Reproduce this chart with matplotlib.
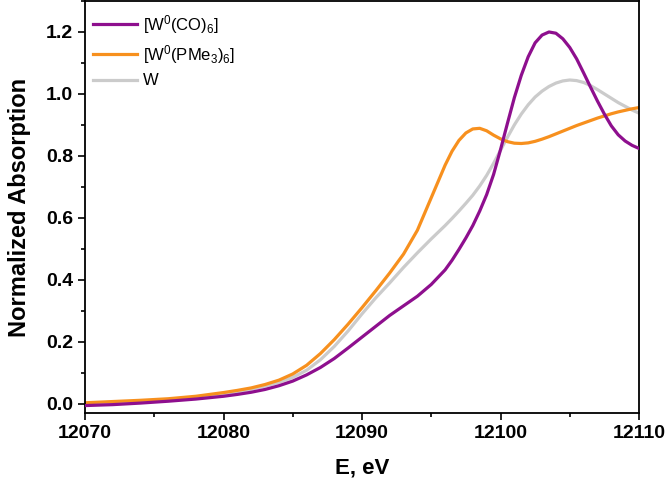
import numpy as np
import matplotlib
matplotlib.use('Agg')
import matplotlib.pyplot as plt
from matplotlib.ticker import MultipleLocator

plt.rcParams['font.family'] = ['Liberation Sans', 'DejaVu Sans']
plt.rcParams['mathtext.default'] = 'regular'

# energy grid (eV)
energy = [12070, 12072, 12074, 12076, 12078, 12080, 12081, 12082, 12083, 12084,
          12085, 12086, 12087, 12088, 12089, 12090, 12091, 12092, 12093, 12094,
          12095,
          12096, 12096.5, 12097, 12097.5, 12098, 12098.5, 12099, 12099.5,
          12100, 12100.5, 12101, 12101.5, 12102, 12102.5, 12103, 12103.5,
          12104, 12104.5, 12105, 12105.5, 12106, 12106.5, 12107, 12107.5,
          12108, 12108.5, 12109, 12109.5, 12110]

w_co = [-0.006, -0.003, 0.002, 0.008, 0.015, 0.024, 0.030, 0.037, 0.046, 0.058,
        0.073, 0.093, 0.117, 0.146, 0.180, 0.215, 0.250, 0.285, 0.316, 0.347,
        0.385,
        0.432, 0.463, 0.498, 0.535, 0.575, 0.622, 0.675, 0.740,
        0.820, 0.905, 0.988, 1.060, 1.120, 1.165, 1.190, 1.200,
        1.196, 1.178, 1.150, 1.113, 1.068, 1.022, 0.977, 0.935,
        0.897, 0.868, 0.848, 0.834, 0.824]

w_pme3 = [0.003, 0.007, 0.011, 0.016, 0.024, 0.036, 0.043, 0.051, 0.062, 0.076,
          0.096, 0.124, 0.162, 0.207, 0.257, 0.310, 0.365, 0.422, 0.483, 0.560,
          0.665,
          0.770, 0.815, 0.850, 0.874, 0.887, 0.889, 0.881, 0.867,
          0.855, 0.846, 0.841, 0.840, 0.842, 0.847, 0.854, 0.862,
          0.871, 0.880, 0.889, 0.898, 0.906, 0.914, 0.922, 0.929,
          0.936, 0.942, 0.947, 0.952, 0.956]

w_metal = [0.000, 0.004, 0.008, 0.013, 0.021, 0.032, 0.039, 0.047, 0.057, 0.069,
           0.085, 0.108, 0.142, 0.185, 0.235, 0.290, 0.342, 0.390, 0.440, 0.487,
           0.532,
           0.575, 0.598, 0.622, 0.647, 0.673, 0.703, 0.737, 0.776,
           0.818, 0.860, 0.900, 0.935, 0.965, 0.990, 1.009, 1.024,
           1.035, 1.042, 1.045, 1.043, 1.037, 1.027, 1.014, 1.000,
           0.986, 0.972, 0.960, 0.948, 0.938]

labels = [r'[W$^0$(CO)$_6$]', r'[W$^0$(PMe$_3$)$_6$]', 'W']

fig = plt.figure(figsize=(6.66, 4.83), dpi=100)
ax = fig.add_axes([85/666, 70/483, 554/666, 412/483])

l1, = ax.plot(energy, w_co, color='#8e0f8e', lw=2.3, zorder=3)
l2, = ax.plot(energy, w_pme3, color='#f7901e', lw=2.3, zorder=2)
l3, = ax.plot(energy, w_metal, color='#cbcbcb', lw=2.3, zorder=1)

ax.set_xlim(12070, 12110)
ax.set_ylim(-0.03, 1.30)
ax.xaxis.set_major_locator(MultipleLocator(10))
ax.xaxis.set_minor_locator(MultipleLocator(5))
ax.yaxis.set_minor_locator(MultipleLocator(0.1))
ax.set_yticks(np.arange(0, 1.21, 0.2))
ax.yaxis.set_major_formatter(plt.FormatStrFormatter('%.1f'))

ax.tick_params(which='major', direction='out', length=5, width=1.2, labelsize=14)
ax.tick_params(which='minor', direction='out', length=3, width=1.2)
for lab in ax.get_xticklabels() + ax.get_yticklabels():
    lab.set_fontweight('bold')
for s in ax.spines.values():
    s.set_linewidth(1.3)

ax.set_xlabel('E, eV', fontsize=16, fontweight='bold', labelpad=11)
ax.set_ylabel('Normalized Absorption', fontsize=17, fontweight='bold', labelpad=11)

ax.legend([l1, l2, l3], labels, loc='upper left', bbox_to_anchor=(0.0, 0.992),
          frameon=False, fontsize=12, handlelength=2.6, handletextpad=0.4,
          labelspacing=0.45, borderaxespad=0.1)

fig.savefig('out.png', dpi=100)
